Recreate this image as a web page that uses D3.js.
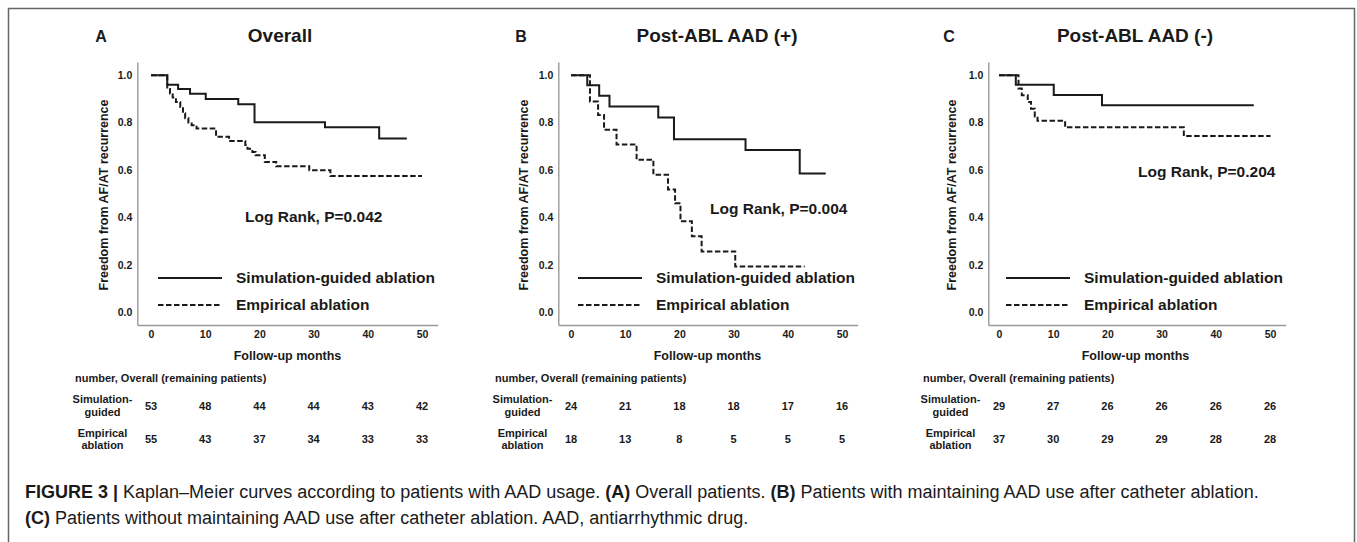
<!DOCTYPE html>
<html>
<head>
<meta charset="utf-8">
<script src="https://cdn.jsdelivr.net/npm/d3@7"></script>
<style>
  body { margin: 0; background: #fff; }
  text { font-family: "Liberation Sans", Arial, sans-serif; fill: #1a1a1a; }
</style>
</head>
<body>
<div id="figure"></div>
<script>
// Canvas
const w = 1357;
const h = 542;

// Shared ticks
const months = [0, 10, 20, 30, 40, 50];
const yTicks = [0, 0.2, 0.4, 0.6, 0.8, 1.0];

// Panel labels
const letters = ["A", "B", "C"];
const titles = ["Overall", "Post-ABL AAD (+)", "Post-ABL AAD (-)"];
const logRanks = ["Log Rank, P=0.042", "Log Rank, P=0.004", "Log Rank, P=0.204"];
const groupNames = ["Simulation-guided ablation", "Empirical ablation"];

// Panel A: overall (time in months, survival)
const simTimeA = [0, 3.0, 5.0, 7.2, 10.1, 16.1, 19.1, 32.1, 42.1, 47.2];
const simSurvA = [1, 0.960, 0.942, 0.922, 0.900, 0.878, 0.802, 0.780, 0.733, 0.733];
const empTimeA = [0, 3.0, 3.5, 4.0, 4.6, 5.4, 5.9, 6.3, 6.9, 7.5, 8.4, 12.0, 14.4, 17.4, 17.8, 18.7, 19.3, 21.0, 23.1, 29.2, 33.1, 50.0];
const empSurvA = [1, 0.942, 0.923, 0.906, 0.887, 0.866, 0.840, 0.818, 0.800, 0.789, 0.775, 0.740, 0.722, 0.705, 0.690, 0.676, 0.662, 0.634, 0.616, 0.599, 0.574, 0.574];

// Panel B: post-ablation AAD (+)
const simTimeB = [0, 3.0, 5.2, 7.1, 16.1, 19.0, 32.2, 42.2, 47.0];
const simSurvB = [1, 0.958, 0.913, 0.868, 0.822, 0.730, 0.684, 0.585, 0.585];
const empTimeB = [0, 3.5, 5.0, 6.1, 8.4, 12.1, 15.2, 17.9, 19.2, 20.2, 22.3, 24.1, 30.3, 43.1];
const empSurvB = [1, 0.889, 0.832, 0.770, 0.708, 0.643, 0.580, 0.517, 0.459, 0.383, 0.320, 0.256, 0.192, 0.192];

// Panel C: post-ablation AAD (-)
const simTimeC = [0, 3.1, 10.1, 19.0, 47.0];
const simSurvC = [1, 0.960, 0.917, 0.873, 0.873];
const empTimeC = [0, 3.6, 4.2, 5.3, 5.9, 6.6, 7.1, 12.2, 34.1, 50.1];
const empSurvC = [1, 0.944, 0.916, 0.887, 0.859, 0.826, 0.808, 0.780, 0.743, 0.743];

// Numbers at risk
const simAtRiskA = [53, 48, 44, 44, 43, 42];
const empAtRiskA = [55, 43, 37, 34, 33, 33];
const simAtRiskB = [24, 21, 18, 18, 17, 16];
const empAtRiskB = [18, 13, 8, 5, 5, 5];
const simAtRiskC = [29, 27, 26, 26, 26, 26];
const empAtRiskC = [37, 30, 29, 29, 28, 28];

// Layout of each panel
const originX = [151, 571, 999];
const axisGap = [13.7, 12.7, 10.7];
const titleX = [280, 717, 1135];
const logRankPos = [[94, 217], [139, 209], [139, 172]];
const pxPerMonth = 5.42;

const panels = [
  { sim: d3.zip(simTimeA, simSurvA), emp: d3.zip(empTimeA, empSurvA), simRisk: simAtRiskA, empRisk: empAtRiskA },
  { sim: d3.zip(simTimeB, simSurvB), emp: d3.zip(empTimeB, empSurvB), simRisk: simAtRiskB, empRisk: empAtRiskB },
  { sim: d3.zip(simTimeC, simSurvC), emp: d3.zip(empTimeC, empSurvC), simRisk: simAtRiskC, empRisk: empAtRiskC },
];

const svg = d3
  .select("#figure")
  .append("svg")
  .attr("width", w)
  .attr("height", h);

// outer frame
svg
  .append("rect")
  .attr("x", 8.5)
  .attr("y", 8.5)
  .attr("width", 1346)
  .attr("height", 545)
  .attr("fill", "none")
  .attr("stroke", "#666")
  .attr("stroke-width", 1.5);

const y = d3.scaleLinear().domain([-0.055, 1.056]).range([325, 62]);

panels.forEach(function (p, i) {
  const x0 = originX[i];
  const xMin = -axisGap[i] / pxPerMonth;
  const xMax = 52.9;
  const x = d3
    .scaleLinear()
    .domain([xMin, xMax])
    .range([x0 + xMin * pxPerMonth, x0 + xMax * pxPerMonth]);

  const g = svg.append("g");

  // panel letter and title
  g.append("text")
    .attr("x", x0 - 50)
    .attr("y", 42)
    .attr("text-anchor", "middle")
    .style("font-size", "16px")
    .style("font-weight", "bold")
    .text(letters[i]);

  g.append("text")
    .attr("x", titleX[i])
    .attr("y", 42)
    .attr("text-anchor", "middle")
    .style("font-size", "19px")
    .style("font-weight", "bold")
    .text(titles[i]);

  // axes
  const yAxis = g
    .append("g")
    .attr("transform", `translate(${x(xMin)},0)`)
    .call(d3.axisLeft(y).tickValues(yTicks).tickFormat(d3.format(".1f")).tickSize(0).tickPadding(5));

  const xAxis = g
    .append("g")
    .attr("transform", `translate(0,${y(-0.055)})`)
    .call(d3.axisBottom(x).tickValues(months).tickSize(0).tickPadding(6));

  [yAxis, xAxis].forEach(function (ax) {
    ax.select(".domain").attr("stroke", "#9a9a9a").attr("stroke-width", 1.4);
    ax.selectAll("text")
      .style("font-size", "10.5px")
      .style("font-weight", "bold")
      .style("font-family", "'Liberation Sans', Arial, sans-serif")
      .attr("fill", "#222");
  });

  g.append("text")
    .attr("transform", `translate(${x0 - 47},195) rotate(-90)`)
    .attr("text-anchor", "middle")
    .attr("dy", "0.35em")
    .style("font-size", "12.5px")
    .style("font-weight", "bold")
    .text("Freedom from AF/AT recurrence");

  g.append("text")
    .attr("x", x(25) + 1)
    .attr("y", 356)
    .attr("dy", "0.35em")
    .attr("text-anchor", "middle")
    .style("font-size", "12.5px")
    .style("font-weight", "bold")
    .text("Follow-up months");

  // survival curves
  const line = d3
    .line()
    .curve(d3.curveStepAfter)
    .x((d) => x(d[0]))
    .y((d) => y(d[1]));

  g.append("path")
    .datum(p.sim)
    .attr("d", line)
    .attr("fill", "none")
    .attr("stroke", "#1a1a1a")
    .attr("stroke-width", 2);

  g.append("path")
    .datum(p.emp)
    .attr("d", line)
    .attr("fill", "none")
    .attr("stroke", "#1a1a1a")
    .attr("stroke-width", 2)
    .attr("stroke-dasharray", "5.5,2.5");

  // legend
  const legend = g.append("g");
  groupNames.forEach(function (name, k) {
    const ly = k === 0 ? 278 : 305;
    legend
      .append("line")
      .attr("x1", x0 + 7)
      .attr("x2", x0 + 71)
      .attr("y1", ly)
      .attr("y2", ly)
      .attr("stroke", "#1a1a1a")
      .attr("stroke-width", 2)
      .attr("stroke-dasharray", k === 0 ? null : "5.5,2.5");
    legend
      .append("text")
      .attr("x", x0 + 85)
      .attr("y", ly)
      .attr("dy", "0.35em")
      .style("font-size", "15.5px")
      .style("font-weight", "bold")
      .text(name);
  });

  g.append("text")
    .attr("x", x0 + logRankPos[i][0])
    .attr("y", logRankPos[i][1])
    .attr("dy", "0.35em")
    .style("font-size", "15.5px")
    .style("font-weight", "bold")
    .text(logRanks[i]);

  // numbers at risk table
  g.append("text")
    .attr("x", x0 - 76)
    .attr("y", 378)
    .attr("dy", "0.35em")
    .style("font-size", "11px")
    .style("font-weight", "bold")
    .text("number, Overall (remaining patients)");

  const rows = [
    { label: ["Simulation-", "guided"], values: p.simRisk, ly: [399, 412], vy: 406 },
    { label: ["Empirical", "ablation"], values: p.empRisk, ly: [433, 445], vy: 439 },
  ];
  rows.forEach(function (r) {
    r.label.forEach(function (s, j) {
      g.append("text")
        .attr("x", x0 - 48.5)
        .attr("y", r.ly[j])
        .attr("dy", "0.35em")
        .attr("text-anchor", "middle")
        .style("font-size", "11px")
        .style("font-weight", "bold")
        .text(s);
    });
    g.selectAll(null)
      .data(r.values)
      .join("text")
      .attr("x", (d, j) => x(months[j]))
      .attr("y", r.vy)
      .attr("dy", "0.35em")
      .attr("text-anchor", "middle")
      .style("font-size", "11px")
      .style("font-weight", "bold")
      .text((d) => d);
  });
});

// caption
const cap = svg.append("g").style("font-size", "18px");
const line1 = cap.append("text").attr("x", 25).attr("y", 498);
line1.append("tspan").style("font-weight", "bold").text("FIGURE 3 | ");
line1.append("tspan").text("Kaplan–Meier curves according to patients with AAD usage. ");
line1.append("tspan").style("font-weight", "bold").text("(A)");
line1.append("tspan").text(" Overall patients. ");
line1.append("tspan").style("font-weight", "bold").text("(B)");
line1.append("tspan").text(" Patients with maintaining AAD use after catheter ablation.");

const line2 = cap.append("text").attr("x", 25).attr("y", 524);
line2.append("tspan").style("font-weight", "bold").text("(C)");
line2.append("tspan").text(" Patients without maintaining AAD use after catheter ablation. AAD, antiarrhythmic drug.");
</script>
</body>
</html>
